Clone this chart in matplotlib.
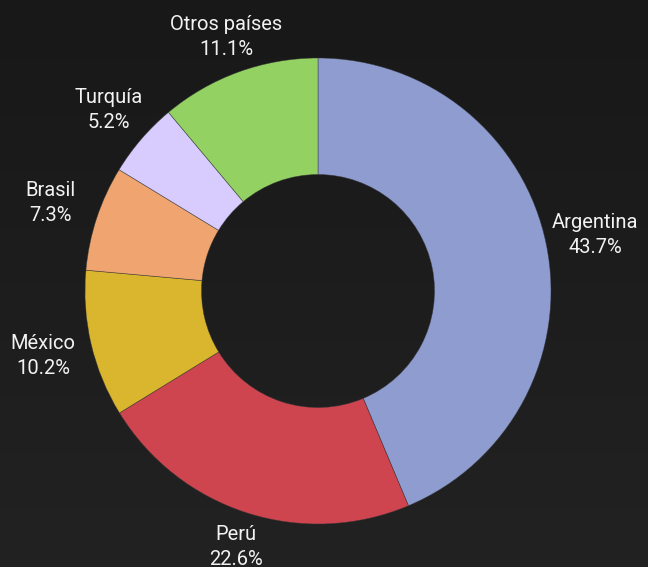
import numpy as np
import matplotlib
matplotlib.use("Agg")
import matplotlib.pyplot as plt

# share of total by country
countries = ["Argentina", "Perú", "México", "Brasil", "Turquía", "Otros países"]
shares = [43.7, 22.6, 10.2, 7.3, 5.2, 11.1]
colors = ["#8e9cd0", "#ce4550", "#dab62f", "#f0a571", "#d8ccfe", "#93d262"]

plt.rcParams["font.family"] = ["Roboto", "DejaVu Sans"]

fig = plt.figure(figsize=(6.48, 5.67), dpi=100)

# dark background with a faint vertical gradient
bg = fig.add_axes([0, 0, 1, 1])
grad = np.linspace(0, 1, 256).reshape(-1, 1)
bg.imshow(grad, aspect="auto", extent=[0, 1, 0, 1], origin="upper",
          cmap=matplotlib.colors.LinearSegmentedColormap.from_list("bg", ["#181818", "#222222"]))
bg.set_axis_off()

ax = fig.add_axes([0, 0, 1, 1])
ax.set_facecolor("none")
wedges, _ = ax.pie(shares, colors=colors, startangle=90, counterclock=False,
                   radius=1.0, wedgeprops=dict(width=0.5, edgecolor=(0.2, 0.2, 0.2, 0.6),
                                               linewidth=0.5))

# labels: name and percent, centred beyond each wedge (a bit further out on the sides)
for w, name, val in zip(wedges, countries, shares):
    mid = np.deg2rad((w.theta1 + w.theta2) / 2)
    dist = 1.15 + 0.065 * np.cos(mid) ** 2
    ax.text(dist * np.cos(mid), dist * np.sin(mid), f"{name}\n{val:.1f}%",
            ha="center", va="center", color="#f2f2f2", fontsize=14.5, linespacing=1.4)

ax.set_xlim(-318 / 233, 330 / 233)
ax.set_ylim(-276 / 233, 291 / 233)
ax.set_aspect("auto")
ax.set_axis_off()

fig.savefig("out.png", dpi=100)
